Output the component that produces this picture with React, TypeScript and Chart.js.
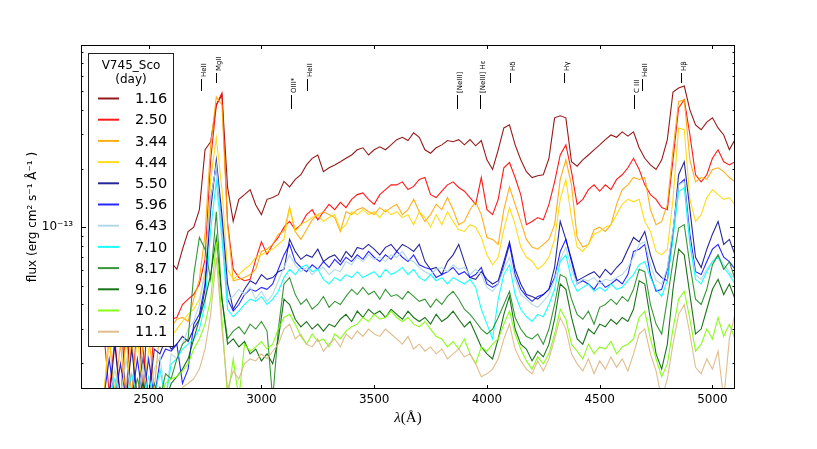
import React, { useEffect, useRef } from 'react';
import { Chart, registerables } from 'chart.js';

Chart.register(...registerables);

// ---------------- data ----------------
const WAVELENGTHS = [
  2300, 2325, 2350, 2375, 2400, 2425, 2450, 2475, 2500, 2525, 2550, 2575,
  2600, 2625, 2650, 2675, 2700, 2725, 2750, 2775, 2800, 2825, 2850, 2875,
  2900, 2925, 2950, 2975, 3000, 3025, 3050, 3075, 3100, 3125, 3150, 3175,
  3200, 3225, 3250, 3275, 3300, 3325, 3350, 3375, 3400, 3425, 3450, 3475,
  3500, 3525, 3550, 3575, 3600, 3625, 3650, 3675, 3700, 3725, 3750, 3775,
  3800, 3825, 3850, 3875, 3900, 3925, 3950, 3975, 4000, 4025, 4050, 4075,
  4100, 4125, 4150, 4175, 4200, 4225, 4250, 4275, 4300, 4325, 4350, 4375,
  4400, 4425, 4450, 4475, 4500, 4525, 4550, 4575, 4600, 4625, 4650, 4675,
  4700, 4725, 4750, 4775, 4800, 4825, 4850, 4875, 4900, 4925, 4950, 4975,
  5000, 5025, 5050, 5075, 5100,
];

// flux in units of 1e-14 erg cm^-2 s^-1 A^-1
const DAY_1_16 = [
  4.26, 3.36, 4.79, 4.26, 1.2, 5.39, 4.79, 1.3, 5.1, 5.7, 6.4, 7.2,
  6.6, 6.07, 7.69, 9.5, 10, 12.3, 25, 27.5, 42.5, 47.9, 16, 10.7,
  13.9, 14.7, 15.6, 13, 11.6, 13.9, 14.2, 14.7, 17.2, 16.1, 17.6, 18.6,
  20.9, 22.6, 23.5, 19.3, 20.2, 20.9, 21.7, 22.6, 23.5, 25, 25.6, 23.5,
  25, 25.9, 25, 26.5, 28.2, 29, 27.9, 30.6, 29, 25, 24, 25.6,
  26.5, 27.9, 27.5, 28.2, 26.5, 28.2, 26.2, 27.9, 22.2, 19.8, 25, 32.4,
  33.6, 26.5, 22.2, 19.3, 18, 18.4, 18.6, 22.6, 36.5, 37.4, 36.5, 21.7,
  20.6, 22.2, 23.5, 25, 26.5, 28.2, 29.8, 29, 30.9, 29.4, 30.9, 25.6,
  22.6, 20.9, 19.8, 22.2, 28.2, 49.6, 52, 53.2, 40.1, 33.6, 31.7, 34.7,
  36.5, 32.4, 29.8, 25, 28.2,
];
const DAY_2_50 = [
  2.99, 1.4, 2.66, 1.3, 2.99, 1.3, 3.36, 2.36, 1.3, 2.99, 3.17, 2.82,
  3.36, 3.43, 4.0, 4.26, 4.5, 5.1, 6.83, 22.2, 42.5, 49, 10.5, 6.07,
  5.5, 5.3, 5.39, 6.83, 8.4, 7.24, 8.15, 8.85, 10, 10.7, 9.7, 10.3,
  11.6, 12.3, 10.9, 12, 13.1, 12.3, 13.4, 12.6, 13.9, 14.7, 15, 13.9,
  13.1, 14.7, 15.6, 16.5, 16.5, 17.1, 15.6, 16.2, 17.6, 18, 14.7, 14.2,
  15.3, 16.5, 17.1, 16, 15.3, 14.2, 13.1, 18, 12.3, 11.6, 13.9, 20.2,
  21.5, 18, 14.7, 10.3, 10.7, 11.2, 10.9, 13.1, 17.1, 23.5, 26.5, 19.3,
  13.1, 13.9, 15.6, 16.5, 15.3, 16.5, 15.6, 17.6, 18.6, 20.2, 22.6, 19.8,
  16.5, 14.7, 13.9, 12.6, 12.3, 22.2, 41, 45.2, 29.8, 18.6, 17.1, 18.6,
  22.6, 25, 21.7, 20.9, 21.7,
];
const DAY_3_44 = [
  1.3, 2.66, 1.4, 2.5, 1.3, 2.66, 1.3, 2.5, 2.82, 1.47, 2.99, 3.17,
  3.07, 3.36, 3.43, 3.27, 4.26, 5.39, 9.2, 26.5, 46.8, 42.5, 10.3, 5.3,
  5.39, 5.5, 5.7, 6.07, 7.5, 7.7, 8.15, 9.2, 9.5, 12.6, 9.5, 8.65,
  9.7, 10.9, 11.6, 12, 11.6, 11.2, 9.5, 12, 11.6, 12.3, 12.6, 12,
  11.6, 12.6, 12, 12.6, 13.1, 11.6, 12.3, 13.9, 12, 10.7, 11.6, 13.1,
  12.3, 14.2, 12.3, 10.3, 10.7, 12.3, 13.5, 11.6, 8.85, 8.65, 8.15, 12.3,
  16.1, 13.1, 10.7, 8.65, 7.9, 7.7, 8.15, 8.65, 10.3, 17.6, 22.2, 16.5,
  8.85, 7.9, 8.15, 9.7, 10, 9.5, 10.3, 13.1, 15.6, 16.5, 18, 17.6,
  18, 12.3, 10.3, 10.7, 13.1, 25, 44.3, 45.2, 22.2, 17.1, 18, 17.6,
  19.8, 20.2, 19.3, 18, 17.1,
];
const DAY_4_44 = [
  1.3, 2.99, 1.3, 1.3, 2.66, 1.3, 2.82, 1.3, 2.36, 2.66, 2.5, 2.82,
  2.74, 2.99, 3.27, 3.56, 3.78, 4.26, 5.7, 17.6, 28.8, 15.6, 6.07, 5.39,
  5.7, 6.07, 6.4, 7.0, 7.2, 7.5, 7.7, 8.15, 8.65, 12.7, 9.5, 10.3,
  10.7, 11.2, 11.6, 10.7, 11.2, 11.6, 9.7, 10.3, 12, 11.6, 12.3, 11.6,
  12, 11.2, 12.3, 11.6, 12, 11.2, 11.6, 10.3, 12, 11.2, 10, 11.6,
  10.3, 12, 10.7, 9.7, 9.5, 10.3, 10, 8.85, 7.2, 6.4, 7.0, 9.7,
  12.6, 10.3, 7.9, 7.0, 6.7, 6.07, 6.4, 7.0, 8.65, 13.9, 17.6, 11.2,
  7.9, 7.5, 8.15, 9.2, 9.5, 10, 10.3, 11.6, 13.1, 13.9, 13.5, 13.9,
  10.7, 9.5, 7.5, 7.2, 7.7, 13.9, 32.4, 31.7, 13.9, 10.7, 11.6, 14.2,
  15.6, 14.7, 13.9, 14.2, 13,
];
const DAY_5_50 = [
  1.3, 1.3, 2.5, 1.3, 1.3, 2.36, 1.3, 2.1, 1.3, 2.36, 2.23, 2.66,
  2.36, 2.5, 2.74, 2.58, 2.99, 3.36, 4.79, 12.3, 22.2, 11.6, 5.1, 3.78,
  4.26, 4.79, 5.3, 5.1, 5.7, 5.39, 5.5, 5.9, 6.07, 8.65, 7.5, 6.83,
  7.2, 7.0, 7.7, 6.65, 7.0, 7.2, 6.65, 7.5, 7.0, 7.87, 7.7, 8.15,
  7.7, 7.2, 7.87, 8.15, 7.5, 8.15, 7.87, 7.5, 8.15, 6.65, 6.07, 6.2,
  5.7, 6.65, 7.2, 8.15, 6.65, 5.5, 5.39, 5.9, 5.39, 5.1, 5.3, 6.65,
  8.4, 6.07, 5.1, 4.5, 4.4, 4.26, 4.5, 4.79, 6.2, 10.7, 8.65, 6.83,
  5.3, 5.5, 5.7, 5.9, 5.5, 6.07, 5.7, 6.2, 6.65, 7.7, 8.85, 8.4,
  9.5, 7.2, 5.9, 5.5, 5.3, 9.2, 18.6, 21.7, 12.3, 7.0, 6.2, 7.7,
  9.2, 10.7, 8.15, 8.65, 7.2,
];
const DAY_5_96 = [
  1.3, 2.1, 1.3, 1.98, 1.3, 1.3, 2.1, 1.3, 2.1, 1.3, 2.05, 2.36,
  2.3, 2.5, 1.57, 1.86, 3.17, 3.56, 5.1, 13.9, 20.9, 10.3, 4.26, 3.7,
  4.0, 4.5, 4.79, 4.68, 4.9, 4.79, 5.1, 6.07, 7.2, 8.15, 6.65, 6.2,
  5.9, 6.4, 6.07, 6.65, 6.2, 6.83, 6.4, 7.0, 6.65, 7.2, 6.83, 7.5,
  7.0, 6.65, 7.2, 6.83, 7.5, 7.0, 6.65, 7.2, 6.4, 6.2, 6.07, 5.5,
  5.7, 5.9, 6.2, 5.7, 5.9, 5.5, 5.7, 6.2, 5.1, 4.9, 5.1, 6.4,
  8.15, 5.7, 4.79, 4.4, 4.15, 4.4, 4.5, 4.79, 5.5, 7.5, 8.65, 6.65,
  5.1, 5.3, 5.1, 4.79, 5.3, 4.9, 5.1, 5.39, 5.1, 5.7, 7.5, 7.7,
  8.15, 5.7, 4.68, 4.79, 6.07, 9.5, 16.5, 17.6, 9.2, 5.9, 5.7, 6.65,
  7.7, 8.15, 7.0, 6.65, 6.07,
];
const DAY_6_43 = [
  1.3, 1.3, 1.86, 1.3, 2.1, 1.3, 1.3, 1.98, 1.3, 1.86, 2.15, 1.3,
  2.23, 2.1, 2.5, 2.99, 3.27, 4.0, 6.07, 13.9, 20.9, 9.7, 4.26, 4.4,
  4.79, 4.5, 4.9, 4.26, 4.68, 4.15, 4.5, 5.3, 6.2, 7.2, 6.4, 5.9,
  6.2, 5.7, 6.07, 6.2, 5.7, 6.07, 5.9, 6.65, 6.4, 7.0, 6.65, 7.2,
  6.83, 7.0, 6.65, 7.2, 7.0, 7.5, 6.83, 6.65, 6.2, 5.9, 5.7, 6.07,
  6.2, 5.9, 6.4, 6.07, 6.2, 5.7, 6.07, 5.7, 4.9, 4.68, 5.1, 6.07,
  7.0, 5.39, 4.5, 4.26, 4.0, 3.87, 4.15, 4.5, 5.39, 6.83, 7.87, 6.07,
  5.1, 5.39, 5.3, 5.5, 5.1, 5.39, 5.3, 5.5, 5.7, 6.2, 7.0, 8.15,
  8.4, 6.4, 5.3, 5.1, 6.2, 9.7, 16.5, 17.1, 8.4, 5.7, 5.39, 6.07,
  6.65, 7.2, 6.4, 5.9, 5.39,
];
const DAY_7_10 = [
  1.3, 1.3, 1.66, 1.3, 1.3, 1.76, 1.3, 1.3, 1.7, 1.3, 1.86, 1.3,
  1.98, 2.1, 2.36, 2.5, 2.66, 2.99, 4.0, 9.7, 17.3, 8.65, 3.78, 3.46,
  3.7, 4.0, 4.26, 4.15, 4.4, 4.0, 4.26, 4.68, 5.5, 6.07, 5.7, 6.2,
  6.4, 5.9, 6.07, 5.39, 5.1, 5.5, 5.3, 5.7, 5.5, 5.9, 5.5, 5.7,
  5.9, 5.5, 6.07, 5.7, 5.9, 6.2, 5.7, 6.07, 5.5, 5.3, 5.7, 5.3,
  5.5, 5.1, 5.5, 5.3, 5.1, 5.39, 4.9, 3.78, 3.17, 2.66, 4.26, 5.7,
  6.4, 4.5, 3.78, 3.46, 3.27, 3.56, 3.46, 4.0, 4.79, 6.65, 7.2, 5.39,
  4.68, 4.9, 5.1, 4.68, 4.9, 4.68, 5.1, 4.79, 4.9, 5.3, 5.7, 6.4,
  6.65, 5.5, 4.79, 4.4, 5.3, 8.65, 15.2, 16.0, 8.15, 5.39, 5.1, 5.9,
  6.65, 7.0, 6.2, 5.7, 5.1,
];
const DAY_8_17 = [
  1.3, 1.3, 1.3, 1.3, 1.3, 1.3, 1.66, 1.3, 1.3, 1.57, 1.3, 1.76,
  1.66, 2.1, 2.5, 2.66, 5.7, 8.85, 7.7, 5.39, 12.0, 4.26, 2.66, 2.92,
  3.07, 2.82, 3.17, 2.99, 3.27, 2.92, 1.3, 2.99, 5.1, 5.5, 4.5, 4.0,
  4.26, 3.78, 4.0, 4.4, 3.87, 4.15, 4.0, 4.4, 4.79, 4.5, 4.9, 4.5,
  4.68, 4.26, 4.79, 4.4, 4.5, 4.26, 4.68, 4.4, 4.15, 4.26, 3.87, 4.26,
  4.0, 4.4, 4.68, 4.26, 3.78, 3.56, 3.27, 2.99, 2.82, 2.99, 3.43, 4.0,
  4.68, 3.43, 2.99, 2.74, 2.66, 2.82, 2.5, 2.99, 4.0, 5.7, 5.5, 4.26,
  3.56, 3.36, 3.7, 3.17, 3.87, 4.0, 4.26, 4.0, 4.4, 4.15, 4.79, 6.07,
  5.9, 4.0, 3.17, 2.82, 4.26, 6.65, 9.9, 10.3, 6.4, 4.26, 4.0, 4.79,
  6.4, 7.2, 6.07, 6.65, 5.39,
];
const DAY_9_16 = [
  1.3, 1.3, 1.3, 1.47, 1.3, 1.3, 1.3, 1.57, 1.3, 1.3, 1.5, 1.3,
  1.57, 1.7, 1.86, 2.1, 2.66, 3.36, 4.26, 5.7, 8.85, 4.26, 2.5, 2.66,
  2.42, 2.58, 2.23, 2.36, 2.05, 2.23, 1.98, 2.66, 4.26, 4.0, 3.36, 3.07,
  3.27, 2.99, 3.17, 2.92, 3.17, 3.07, 3.36, 3.56, 3.27, 3.7, 3.43, 3.78,
  3.56, 3.7, 3.43, 3.78, 3.56, 3.36, 3.7, 3.43, 3.27, 3.43, 3.17, 3.56,
  3.27, 3.43, 3.7, 3.36, 3.07, 3.27, 2.82, 2.42, 2.23, 2.1, 2.66, 3.56,
  4.4, 2.99, 2.5, 2.36, 2.05, 2.3, 2.15, 2.5, 3.36, 5.1, 4.79, 3.43,
  2.66, 2.5, 2.99, 2.82, 3.17, 3.07, 3.36, 3.17, 3.43, 3.27, 3.78, 5.3,
  5.1, 3.36, 2.23, 1.86, 2.5, 4.79, 7.7, 7.2, 4.5, 2.82, 2.99, 3.78,
  4.79, 5.39, 4.5, 5.1, 4.26,
];
const DAY_10_2 = [
  1.3, 1.3, 1.3, 1.3, 1.3, 1.3, 1.3, 1.3, 1.3, 1.3, 1.3, 1.57,
  1.66, 1.7, 1.82, 1.98, 2.36, 2.66, 3.17, 4.26, 8.4, 3.36, 1.3, 2.1,
  1.3, 2.5, 2.3, 2.42, 2.58, 2.36, 2.5, 2.99, 3.43, 3.56, 3.17, 2.74,
  2.5, 2.82, 2.58, 2.66, 2.42, 2.82, 2.66, 2.92, 3.07, 3.17, 3.43, 3.27,
  3.56, 3.36, 3.43, 3.7, 3.43, 3.27, 3.43, 3.17, 3.07, 3.27, 2.99, 2.74,
  2.66, 2.42, 2.58, 2.36, 2.66, 2.23, 1.98, 2.42, 2.3, 2.5, 2.66, 3.17,
  3.7, 2.82, 2.36, 2.05, 1.86, 2.15, 1.98, 2.23, 2.82, 3.78, 3.36, 2.5,
  2.3, 2.1, 2.5, 2.23, 2.42, 2.36, 2.58, 2.23, 2.42, 2.5, 2.66, 3.43,
  3.7, 2.66, 2.1, 1.7, 1.98, 2.99, 4.26, 4.68, 3.36, 2.3, 2.5, 2.99,
  2.66, 3.43, 2.74, 3.17, 2.66,
];
const DAY_11_1 = [
  1.3, 1.3, 1.3, 1.3, 1.3, 1.3, 1.3, 1.3, 1.3, 1.3, 1.3, 1.3,
  1.4, 1.3, 1.5, 1.57, 1.66, 1.86, 2.36, 3.56, 7.0, 2.99, 1.47, 1.82,
  1.66, 1.98, 2.1, 2.05, 2.23, 2.1, 2.3, 2.5, 2.99, 3.17, 2.66, 2.82,
  2.5, 2.42, 2.66, 2.3, 2.5, 2.66, 2.42, 2.82, 2.66, 2.92, 2.74, 2.99,
  2.82, 2.74, 2.99, 2.82, 2.66, 2.5, 2.74, 2.36, 2.5, 2.3, 2.42, 2.23,
  2.36, 2.1, 2.23, 2.36, 2.15, 2.23, 1.98, 1.7, 1.76, 1.86, 2.1, 2.66,
  3.17, 2.36, 2.05, 1.86, 1.76, 2.05, 1.82, 2.1, 2.66, 3.43, 2.99, 2.23,
  1.98, 1.82, 2.1, 1.76, 2.05, 1.86, 2.15, 1.9, 2.1, 1.82, 2.23, 2.82,
  2.99, 2.23, 1.82, 1.3, 1.66, 2.5, 3.56, 4.0, 2.82, 1.9, 1.76, 2.1,
  1.86, 2.3, 1.3, 2.66, 3.6,
];

const SERIES_LABELS = ['1.16', '2.50', '3.44', '4.44', '5.50', '5.96', '6.43', '7.10', '8.17', '9.16', '10.2', '11.1'];
const SERIES_VALUES = [DAY_1_16, DAY_2_50, DAY_3_44, DAY_4_44, DAY_5_50, DAY_5_96, DAY_6_43, DAY_7_10, DAY_8_17, DAY_9_16, DAY_10_2, DAY_11_1];

const X_TICKS = [2500, 3000, 3500, 4000, 4500, 5000];
const Y_TICKS = [2, 3, 4, 5, 6, 7, 8, 9, 10, 20, 30, 40, 50, 60, 70, 80];
const Y_MAJOR = 10;

const LINE_WAVELENGTHS = [2733, 2800, 3133, 3203, 3869, 3968, 4102, 4340, 4650, 4686, 4861];
const LINE_LABELS = ['HeII', 'MgII', 'OIII*', 'HeII', '[NeIII]', '[NeIII] Hε', 'Hδ', 'Hγ', 'C III', 'HeII', 'Hβ'];

// ---------------- styles ----------------
const COLORS = [
  'rgba(139,0,0,0.9)', 'rgba(255,0,0,0.9)', 'rgba(255,165,0,0.9)', 'rgba(255,215,0,0.9)',
  'rgba(0,0,139,0.85)', 'rgba(0,0,255,0.85)', 'rgba(173,216,230,0.95)', 'rgba(0,255,255,0.9)',
  'rgba(34,139,34,0.9)', 'rgba(0,100,0,0.9)', 'rgba(124,252,0,0.9)', 'rgba(222,184,135,0.95)',
];
// annotation marker levels: [line top, line bottom] offsets from plot top (px)
const LEVELS = [[28, 38], [34, 46], [50, 64]];
const LINE_LEVEL = [1, 0, 2, 1, 2, 2, 0, 0, 2, 1, 0];
const FONT = 'DejaVu Sans';

const overlayPlugin = {
  id: 'overlay',
  afterDraw(chart: any) {
    const { ctx, chartArea } = chart;
    const { left, right, top, bottom } = chartArea;
    const xs = chart.scales.x;
    const ys = chart.scales.y;
    ctx.save();
    ctx.strokeStyle = '#000';
    ctx.lineWidth = 1;
    // frame
    ctx.strokeRect(left + 0.5, top + 0.5, right - left - 1, bottom - top - 1);
    // inward ticks
    ctx.beginPath();
    X_TICKS.forEach((v) => {
      const px = Math.round(xs.getPixelForValue(v)) + 0.5;
      ctx.moveTo(px, bottom);
      ctx.lineTo(px, bottom - 4);
      ctx.moveTo(px, top);
      ctx.lineTo(px, top + 4);
    });
    Y_TICKS.forEach((v) => {
      const py = Math.round(ys.getPixelForValue(v)) + 0.5;
      const len = v === Y_MAJOR ? 5 : 2.5;
      ctx.moveTo(left, py);
      ctx.lineTo(left + len, py);
      ctx.moveTo(right, py);
      ctx.lineTo(right - len, py);
    });
    ctx.stroke();

    // line identifications
    ctx.fillStyle = '#000';
    ctx.font = `7px "${FONT}"`;
    LINE_WAVELENGTHS.forEach((w, i) => {
      const px = Math.round(xs.getPixelForValue(w)) + 0.5;
      const [t, b] = LEVELS[LINE_LEVEL[i]];
      ctx.beginPath();
      ctx.moveTo(px, top + b);
      ctx.lineTo(px, top + t);
      ctx.stroke();
      ctx.save();
      ctx.translate(px + 2.5, top + t - 2);
      ctx.rotate(-Math.PI / 2);
      ctx.textAlign = 'left';
      ctx.textBaseline = 'middle';
      ctx.fillText(LINE_LABELS[i], 0, 0);
      ctx.restore();
    });

    // legend
    const lx = left + 7;
    const ly = top + 8;
    const lw = 85;
    const lh = 293;
    ctx.fillStyle = '#fff';
    ctx.fillRect(lx, ly, lw, lh);
    ctx.strokeStyle = '#222';
    ctx.lineWidth = 1;
    ctx.strokeRect(lx + 0.5, ly + 0.5, lw, lh);
    ctx.fillStyle = '#000';
    ctx.textAlign = 'center';
    ctx.textBaseline = 'middle';
    ctx.font = `12px "${FONT}"`;
    ctx.fillText('V745_Sco', lx + lw / 2 + 0.5, ly + 12.5);
    ctx.fillText('(day)', lx + lw / 2 + 0.5, ly + 26.5);
    ctx.textAlign = 'left';
    ctx.font = `14.5px "${FONT}"`;
    SERIES_LABELS.forEach((lab, i) => {
      const cy = ly + 45.5 + i * 21.2;
      ctx.strokeStyle = COLORS[i];
      ctx.lineWidth = 2;
      ctx.beginPath();
      ctx.moveTo(lx + 10, cy);
      ctx.lineTo(lx + 31, cy);
      ctx.stroke();
      ctx.fillStyle = '#000';
      ctx.fillText(lab, lx + 47, cy + 1);
    });

    // x-axis title: italic lambda + (Å)
    const cx = (left + right) / 2;
    const base = bottom + 33;
    ctx.font = 'italic 15px "Liberation Serif"';
    const w1 = ctx.measureText('λ').width;
    ctx.font = '15px "Liberation Serif"';
    const w2 = ctx.measureText('(Å)').width;
    const sx = cx - (w1 + w2) / 2;
    ctx.textBaseline = 'alphabetic';
    ctx.fillStyle = '#000';
    ctx.font = 'italic 15px "Liberation Serif"';
    ctx.fillText('λ', sx, base);
    ctx.font = '15px "Liberation Serif"';
    ctx.fillText('(Å)', sx + w1, base);
    ctx.restore();
  },
};

export default function App() {
  const canvasRef = useRef<HTMLCanvasElement | null>(null);

  useEffect(() => {
    if (!canvasRef.current) return;
    const n = SERIES_VALUES.length;
    const chart = new Chart(canvasRef.current, {
      type: 'line',
      data: {
        datasets: SERIES_VALUES.map((vals, i) => ({
          label: SERIES_LABELS[i],
          data: WAVELENGTHS.map((w, j) => ({ x: w, y: vals[j] })),
          borderColor: COLORS[i],
          backgroundColor: COLORS[i],
          borderWidth: 1.1,
          pointRadius: 0,
          tension: 0,
          fill: false,
          order: n - i,
        })),
      },
      options: {
        animation: false,
        responsive: false,
        events: [],
        layout: { padding: { left: 22, top: 45, right: 82, bottom: 0 } },
        plugins: {
          legend: { display: false },
          tooltip: { enabled: false },
          title: { display: false },
        },
        scales: {
          x: {
            type: 'linear',
            min: 2200,
            max: 5100,
            grid: { display: false, drawTicks: false, tickLength: 0 },
            border: { display: false },
            afterBuildTicks: (s: any) => {
              s.ticks = X_TICKS.map((v) => ({ value: v }));
            },
            afterFit: (s: any) => {
              s.height = 60;
            },
            ticks: {
              autoSkip: false,
              maxRotation: 0,
              padding: 4,
              color: '#000',
              font: { family: FONT, size: 12 },
              callback: (v: any) => String(v),
            },
          },
          y: {
            type: 'logarithmic',
            min: 1.47,
            max: 86.5,
            grid: { display: false, drawTicks: false, tickLength: 0 },
            border: { display: false },
            afterBuildTicks: (s: any) => {
              s.ticks = Y_TICKS.map((v) => ({ value: v, major: v === Y_MAJOR }));
            },
            afterFit: (s: any) => {
              s.width = 59;
            },
            ticks: {
              autoSkip: false,
              padding: 8,
              color: '#000',
              font: { family: FONT, size: 12 },
              callback: (v: any) => (v === Y_MAJOR ? '10⁻¹³' : ''),
            },
            title: {
              display: true,
              text: 'flux (erg cm² s⁻¹ Å⁻¹ )',
              color: '#000',
              font: { family: FONT, size: 12 },
              padding: { top: 4, bottom: 4 },
            },
          },
        },
      },
      plugins: [overlayPlugin],
    });
    return () => chart.destroy();
  }, []);

  return (
    <div style={{ position: 'absolute', left: 0, top: 0, width: 817, height: 449, background: '#fff' }}>
      <canvas ref={canvasRef} width={817} height={449} style={{ width: 817, height: 449 }} />
    </div>
  );
}
